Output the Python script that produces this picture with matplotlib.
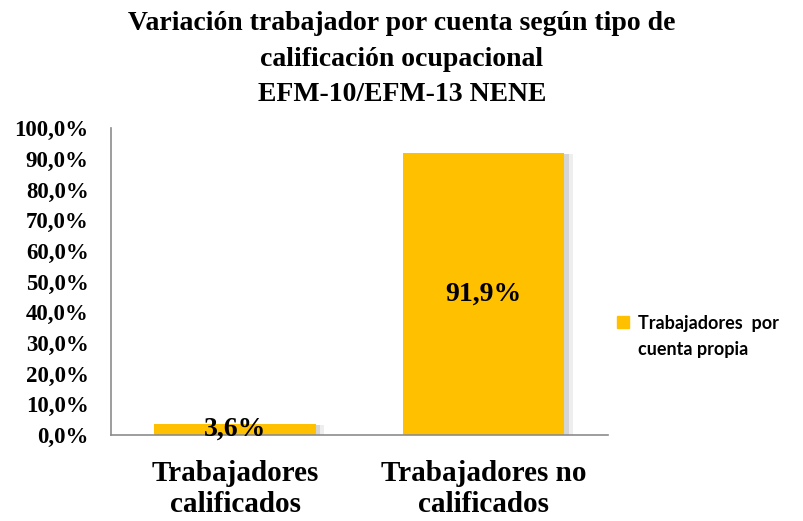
import matplotlib
matplotlib.use("Agg")
import matplotlib.pyplot as plt
import matplotlib.patheffects as pe
from matplotlib.patches import Patch

# -- chart data --
categorias = ["Trabajadores\ncalificados", "Trabajadores no\ncalificados"]
valores = [3.6, 91.9]
etiquetas = ["3,6%", "91,9%"]
serie_l1 = "Trabajadores  por"
serie_l2 = "cuenta propia"
y_ticks = [0, 10, 20, 30, 40, 50, 60, 70, 80, 90, 100]

color_barra = "#FFC000"
serif = "Liberation Serif"
W, H = 804, 521

fig = plt.figure(figsize=(W / 100, H / 100), dpi=100)
ax = fig.add_axes([0.138, 0.165, 0.618, 0.589])

x = list(range(len(categorias)))
bars = ax.bar(x, valores, width=0.65, color=color_barra, zorder=2)
for b in bars:
    b.set_path_effects([pe.SimplePatchShadow(offset=(3, -1), shadow_rgbFace="#9a9a9a", alpha=0.35),
                        pe.SimplePatchShadow(offset=(6, -1), shadow_rgbFace="#c8c8c8", alpha=0.3),
                        pe.Normal()])

for xi, v, lab in zip(x, valores, etiquetas):
    ax.text(xi, v / 2, lab, ha="center", va="center", fontsize=20,
            fontweight="bold", family=serif, zorder=3)

ax.set_xlim(-0.5, 1.5)
ax.set_ylim(0, 100)
ax.set_yticks(y_ticks)
ax.set_yticklabels([f"{t},0%" for t in y_ticks], family=serif, fontweight="bold", fontsize=16.5)
ax.set_xticks(x)
ax.set_xticklabels(categorias, family=serif, fontweight="bold", fontsize=21, linespacing=1.2)
ax.tick_params(axis="both", length=0)
ax.tick_params(axis="y", pad=16)
ax.tick_params(axis="x", pad=18)

for s in ["top", "right"]:
    ax.spines[s].set_visible(False)
for s in ["left", "bottom"]:
    ax.spines[s].set_color("#8c8c8c")
    ax.spines[s].set_linewidth(1.2)

fig.text(0.5, 0.978, "Variación trabajador por cuenta según tipo de\ncalificación ocupacional\nEFM-10/EFM-13 NENE",
         ha="center", va="top", family=serif, fontweight="bold", fontsize=20, linespacing=1.55)

leg_font = {"family": "Lato", "weight": "bold", "size": 13}
fig.legend(handles=[Patch(color=color_barra, label=serie_l1)], loc="center left",
           bbox_to_anchor=(617 / W, 1 - 323 / H), frameon=False, borderpad=0, borderaxespad=0,
           handlelength=0.67, handleheight=0.67, handletextpad=0.5, prop=leg_font)
fig.text(638 / W, 1 - 349 / H, serie_l2, ha="left", va="center", **leg_font)

fig.savefig("out.png", dpi=100)
